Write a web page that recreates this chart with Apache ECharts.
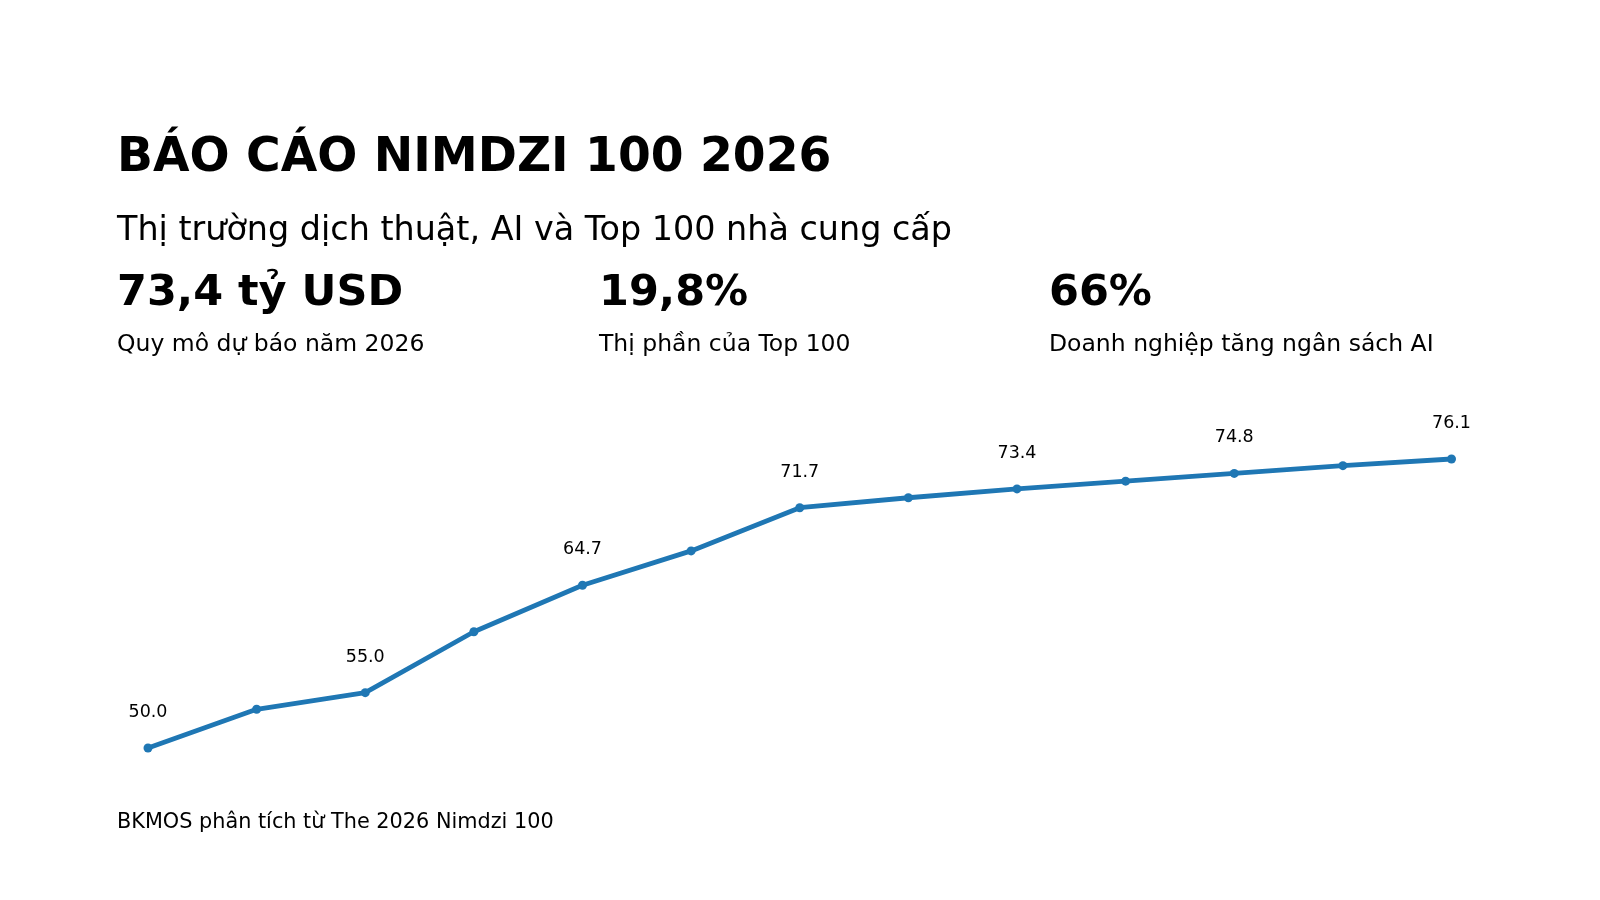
<!DOCTYPE html>
<html>
<head>
<meta charset="utf-8">
<script src="https://cdn.jsdelivr.net/npm/echarts@6/dist/echarts.min.js"></script>
<style>
html,body{margin:0;padding:0;background:#fff;}
#chart{width:1600px;height:900px;}
</style>
</head>
<body>
<div id="chart"></div>
<script>
var years = ['2018','2019','2020','2021','2022','2023','2024','2025','2026','2027','2028','2029','2030'];
var marketSize = [50.0, 53.5, 55.0, 60.5, 64.7, 67.8, 71.7, 72.6, 73.4, 74.1, 74.8, 75.5, 76.1];
var titleText = 'BÁO CÁO NIMDZI 100 2026';
var subtitleText = 'Thị trường dịch thuật, AI và Top 100 nhà cung cấp';
var kpiValues = ['73,4 tỷ USD', '19,8%', '66%'];
var kpiLabels = ['Quy mô dự báo năm 2026', 'Thị phần của Top 100', 'Doanh nghiệp tăng ngân sách AI'];
var sourceText = 'BKMOS phân tích từ The 2026 Nimdzi 100';

var FONT = '"DejaVu Sans", sans-serif';
var kpiX = [117, 599, 1049];

var graphics = [
  {type:'text', left:117, top:135, style:{text:titleText, font:'bold 47.2px ' + FONT, fill:'#000'}},
  {type:'text', left:117, top:215, style:{text:subtitleText, font:'33.4px ' + FONT, fill:'#000'}},
  {type:'text', left:117, top:812, style:{text:sourceText, font:'20.8px ' + FONT, fill:'#000'}, z:10}
];
for (var i = 0; i < kpiValues.length; i++) {
  graphics.push({type:'text', left:kpiX[i], top:272, style:{text:kpiValues[i], font:'bold 43px ' + FONT, fill:'#000'}});
  graphics.push({type:'text', left:kpiX[i], top:333, style:{text:kpiLabels[i], font:'23.5px ' + FONT, fill:'#000'}});
}

var chart = echarts.init(document.getElementById('chart'), null, {renderer:'canvas'});
chart.setOption({
  backgroundColor:'#fff',
  animation:false,
  grid:{left:148, right:148.5, top:415.8, bottom:96.6, containLabel:false},
  xAxis:{type:'category', data:years, boundaryGap:false, show:false},
  yAxis:{type:'value', min:45, max:80, show:false, splitLine:{show:false}},
  graphic:graphics,
  series:[{
    type:'line',
    data:marketSize,
    symbol:'circle',
    symbolSize:9,
    lineStyle:{color:'#1f77b4', width:4.8},
    itemStyle:{color:'#1f77b4'},
    label:{
      show:true,
      position:'top',
      distance:22,
      color:'#000',
      fontFamily:'DejaVu Sans',
      fontSize:17.5,
      formatter:function(p){ return p.dataIndex % 2 === 0 ? p.value.toFixed(1) : ''; }
    }
  }]
});
</script>
</body>
</html>
